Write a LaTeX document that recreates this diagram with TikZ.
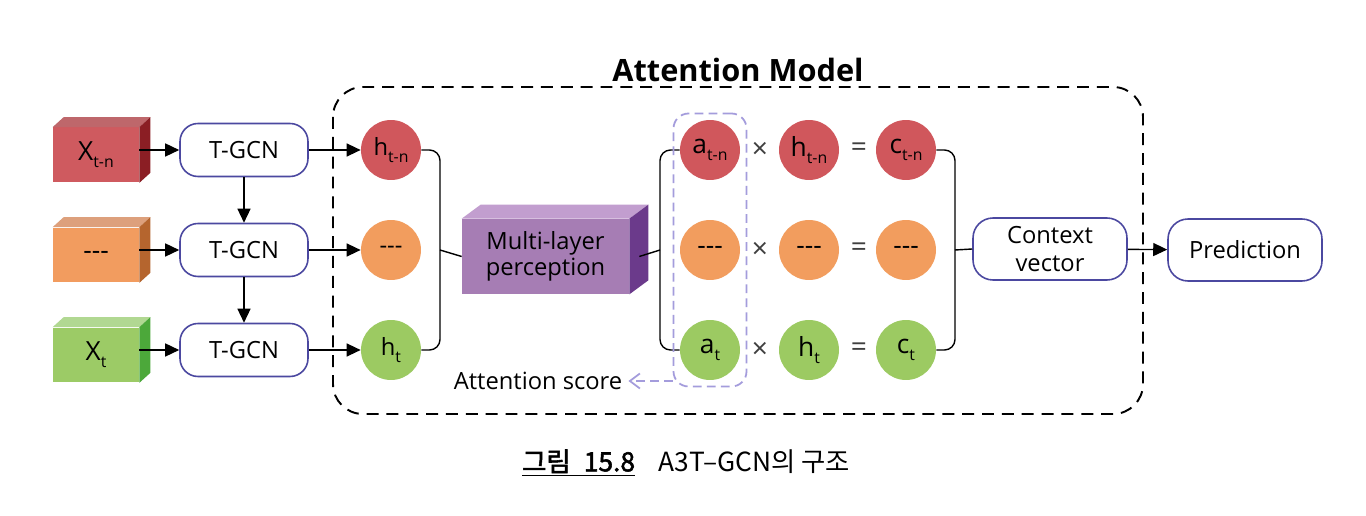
\documentclass[tikz,border=0pt]{standalone}
\usepackage{fontspec}
\setmainfont{Open Sans}
\newfontfamily\krfont{Noto Sans CJK KR}[AutoFakeBold=2]
\newcommand{\lowsub}[1]{\raisebox{-4pt}{\fontsize{9}{9}\selectfont #1}}
\definecolor{redA}{HTML}{CF5A5F}
\definecolor{redB}{HTML}{BE676B}
\definecolor{redC}{HTML}{8B1E24}
\definecolor{redD}{HTML}{D0575C}
\definecolor{orangeA}{HTML}{F29C5F}
\definecolor{orangeB}{HTML}{DDA07C}
\definecolor{orangeC}{HTML}{B5652E}
\definecolor{orangeD}{HTML}{F29D5E}
\definecolor{greenA}{HTML}{9CCB66}
\definecolor{greenB}{HTML}{B1D892}
\definecolor{greenC}{HTML}{4CA83A}
\definecolor{greenD}{HTML}{9CCA62}
\definecolor{boxblue}{HTML}{4B48A0}
\definecolor{mlpA}{HTML}{A67DB4}
\definecolor{mlpB}{HTML}{C29ECF}
\definecolor{mlpC}{HTML}{6B3A8B}
\definecolor{lavender}{HTML}{A49CDC}
\usetikzlibrary{arrows.meta, positioning, calc, fit}

\begin{document}
\begin{tikzpicture}[x=0.02cm, y=-0.02cm,
  font=\fontsize{13.5}{15}\selectfont,
  tgcn/.style={draw=boxblue, line width=0.9pt, fill=white, rounded corners=0.36cm, minimum width=2.56cm, minimum height=1.06cm, align=center},
  ball/.style={circle, inner sep=0pt, minimum size=1.2cm, font=\fontsize{15}{16}\selectfont},
  front/.style={inner sep=0pt, minimum width=1.72cm, minimum height=1.1cm},
  arr/.style={-{Triangle[length=2.8mm,width=2.6mm]}, line width=0.8pt},
  bus/.style={line width=0.8pt, rounded corners=6pt},
  sign/.style={font=\fontsize{16}{16}\selectfont, text=black!75},
  modelbox/.style={line width=1.1pt, dash pattern=on 6.8pt off 4.5pt, rounded corners=0.6cm},
  attbox/.style={draw=lavender, line width=1pt, dash pattern=on 5pt off 3pt, rounded corners=0.3cm, inner sep=3.5pt},
  scorearr/.style={-{Straight Barb[length=2mm,width=3mm]}, draw=lavender, line width=1pt, dash pattern=on 5pt off 3pt}]
  \useasboundingbox[fill=white] (0,0) rectangle (1366,516);

  % attention model frame
  \draw[modelbox] (333,87) rectangle (1143,414);
  \node[font=\bfseries\fontsize{17.5}{19}\selectfont] (title) at (738,70) {Attention Model};

  % inputs, T-GCN cells, hidden states
  \foreach \i/\y/\col/\txt in {1/150/red/{X\lowsub{t-n}}, 2/250/orange/{{-}{-}{-}}, 3/350/green/{X\lowsub{t}}} {
    \node[front, fill=\col A, font=\fontsize{15}{16}\selectfont] (x\i) at (96,\y+5) {\txt};
    \fill[\col B] (x\i.north west) -- ++(11,-10) -- ($(x\i.north east)+(11,-10)$) -- (x\i.north east) -- cycle;
    \fill[\col C] (x\i.north east) -- ++(11,-10) -- ($(x\i.south east)+(11,-10)$) -- (x\i.south east) -- cycle;
    \node[tgcn] (t\i) at (244,\y) {T-GCN};
    \node[ball, fill=\col D] (h\i) at (391,\y) {};
    \draw[arr] (x\i.east |- t\i.west) -- (t\i.west);
    \draw[arr] (t\i.east) -- (h\i.west);
  }
  \node at (h1) {h\lowsub{t-n}};
  \node at (h2) {{-}{-}{-}};
  \node at (h3) {h\lowsub{t}};
  \draw[arr] (t1) -- (t2);
  \draw[arr] (t2) -- (t3);

  % multi-layer perception
  \node[front, minimum width=3.34cm, minimum height=1.5cm, fill=mlpA, align=center] (mlp) at (545.5,256.5) {Multi-layer\\perception};
  \fill[mlpB] (mlp.north west) -- ++(19,-14) -- ($(mlp.north east)+(19,-14)$) -- (mlp.north east) -- cycle;
  \fill[mlpC] (mlp.north east) -- ++(19,-14) -- ($(mlp.south east)+(19,-14)$) -- (mlp.south east) -- cycle;

  % attention x hidden = context parts
  \foreach \i/\y/\col/\la/\lh/\lc in {1/150/red/{a\lowsub{t-n}}/{h\lowsub{t-n}}/{c\lowsub{t-n}}, 2/250/orange/{{-}{-}{-}}/{{-}{-}{-}}/{{-}{-}{-}}, 3/350/green/{a\lowsub{t}}/{h\lowsub{t}}/{c\lowsub{t}}} {
    \node[ball, fill=\col D] (a\i) at (710,\y) {\la};
    \node[sign] (mul\i) at (760,\y) {×};
    \node[ball, fill=\col D] (hh\i) at (809,\y) {\lh};
    \node[sign] (eq\i) at (859,\y) {=};
    \node[ball, fill=\col D] (c\i) at (906,\y) {\lc};
  }

  \node[tgcn, minimum width=3.08cm, minimum height=1.24cm, rounded corners=0.4cm] (ctx) at (1050,249) {Context\\[1pt]vector};
  \node[tgcn, minimum width=3.08cm, minimum height=1.24cm, rounded corners=0.4cm] (pred) at (1245,250) {Prediction};

  % buses
  \coordinate (hbus) at (440,250);
  \coordinate (abus) at (660,250);
  \coordinate (cbus) at (955,250);
  \draw[bus] (h1.east) -| (hbus) |- (h3.east);
  \draw[line width=0.8pt] (hbus) -- (mlp.west);
  \draw[bus] (a1.west) -| (abus) |- (a3.west);
  \draw[line width=0.8pt] ($(mlp.east)+(10,0)$) -- (abus);
  \draw[bus] (c1.east) -| (cbus) |- (c3.east);
  \draw[line width=0.8pt] (cbus) -- (ctx.west);
  \draw[arr] (ctx) -- (pred);

  % attention score
  \node[attbox, fit=(a1)(a3)] (att) {};
  \node (score) at (538,381) {Attention score};
  \draw[scorearr] (att.south west |- score) -- (score.east);

  % caption
  \node[font=\krfont\fontsize{15}{17}\selectfont] (cap) at (686,463) {{\bfseries\underline{그림\hspace{0.5em}15.8}}\hspace{0.9em}A3T–GCN의 구조};
\end{tikzpicture}
\end{document}
